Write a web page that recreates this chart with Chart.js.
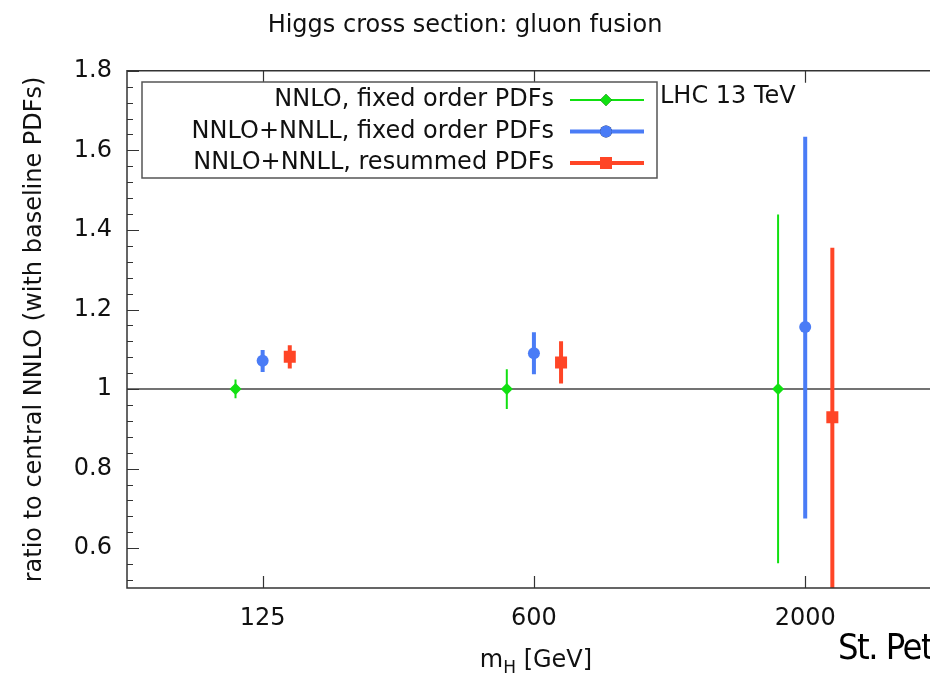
<!DOCTYPE html>
<html>
<head>
<meta charset="utf-8">
<script src="https://cdn.jsdelivr.net/npm/chart.js@4.4.0/dist/chart.umd.min.js"></script>
<style>
  html, body { margin: 0; padding: 0; background: #fff; overflow: hidden; width: 930px; height: 674px; }
  #chart { position: absolute; left: 0; top: 0; }
  #credit { position: absolute; left: 838px; top: 629px; font-family: "DejaVu Sans Condensed", "DejaVu Sans"; font-size: 36px; line-height: 1; color: #000; white-space: nowrap; letter-spacing: -1.5px; }
</style>
</head>
<body>
<canvas id="chart" width="930" height="674"></canvas>
<div id="credit">St. Petersburg</div>
<script>
// Higgs mass points (categories on x)
const masses = ['125', '600', '2000'];

// NNLO, fixed order PDFs
const nnloFixed = [1.0, 1.0, 1.0];
const nnloFixedLo = [0.977, 0.95, 0.562];
const nnloFixedHi = [1.024, 1.05, 1.439];

// NNLO+NNLL, fixed order PDFs
const resFixed = [1.071, 1.09, 1.156];
const resFixedLo = [1.043, 1.037, 0.675];
const resFixedHi = [1.098, 1.143, 1.634];

// NNLO+NNLL, resummed PDFs
const resRes = [1.081, 1.067, 0.929];
const resResLo = [1.052, 1.014, 0.45];
const resResHi = [1.11, 1.12, 1.355];

const yTicks = [0.6, 0.8, 1, 1.2, 1.4, 1.6, 1.8];

const FONT = '"DejaVu Sans", sans-serif';
const GREEN = '#11e011';
const BLUE = '#4a7cf6';
const RED = '#ff4526';
const SHIFT = 0.1; // horizontal spread of the three series around each mass

const pts = (vals, off) => vals.map((v, i) => ({ x: i + 1 + off, y: v }));

// error bars, frame, ticks, reference line, legend
const decorations = {
  id: 'decorations',
  beforeDatasetsDraw(c) {
    const { ctx, chartArea: a, scales: { y } } = c;
    ctx.save();
    // line at ratio = 1
    ctx.strokeStyle = '#444';
    ctx.lineWidth = 1.5;
    ctx.beginPath();
    ctx.moveTo(a.left, y.getPixelForValue(1));
    ctx.lineTo(a.right, y.getPixelForValue(1));
    ctx.stroke();

    // error bars
    ctx.beginPath();
    ctx.rect(a.left, a.top, a.right - a.left, a.bottom - a.top);
    ctx.clip();
    c.data.datasets.forEach((ds, i) => {
      const meta = c.getDatasetMeta(i);
      ctx.strokeStyle = ds.borderColor;
      ctx.lineWidth = ds.barWidth;
      meta.data.forEach((el, j) => {
        ctx.beginPath();
        ctx.moveTo(el.x, y.getPixelForValue(ds.errLo[j]));
        ctx.lineTo(el.x, y.getPixelForValue(ds.errHi[j]));
        ctx.stroke();
      });
    });
    ctx.restore();
  },
  afterDraw(c) {
    const { ctx, chartArea: a, scales: { x, y } } = c;
    ctx.save();
    // frame (right side is cut off in the original)
    ctx.strokeStyle = '#333';
    ctx.lineWidth = 1.5;
    ctx.beginPath();
    ctx.moveTo(a.right + 2, a.top);
    ctx.lineTo(a.left, a.top);
    ctx.lineTo(a.left, a.bottom);
    ctx.lineTo(a.right + 2, a.bottom);
    ctx.stroke();

    // y ticks, major + minor, pointing inward
    ctx.lineWidth = 1.2;
    ctx.beginPath();
    for (let k = 0; k <= 32; k++) {
      const v = 0.52 + k * 0.04;
      if (v > 1.8001) break;
      const py = Math.round(y.getPixelForValue(v)) + 0.5;
      const major = Math.abs((v * 5) - Math.round(v * 5)) < 1e-6;
      const len = major ? 12 : 6;
      ctx.moveTo(a.left, py); ctx.lineTo(a.left + len, py);
    }
    // x ticks, bottom and top
    masses.forEach((m, i) => {
      const px = Math.round(x.getPixelForValue(i + 1)) + 0.5;
      ctx.moveTo(px, a.bottom); ctx.lineTo(px, a.bottom - 12);
      ctx.moveTo(px, a.top); ctx.lineTo(px, a.top + 12);
    });
    ctx.stroke();

    // x axis title with subscript
    ctx.fillStyle = '#111';
    ctx.textBaseline = 'alphabetic';
    ctx.textAlign = 'left';
    const parts = [['m', 24, 0], ['H', 17, 6], [' [GeV]', 24, 0]];
    let total = 0;
    parts.forEach(p => { ctx.font = p[1] + 'px ' + FONT; total += ctx.measureText(p[0]).width; });
    let tx = 536 - total / 2;
    parts.forEach(p => {
      ctx.font = p[1] + 'px ' + FONT;
      ctx.fillText(p[0], tx, 667 + p[2]);
      tx += ctx.measureText(p[0]).width;
    });

    // legend box
    const lx0 = 142, lx1 = 657, ly0 = 82, ly1 = 178;
    ctx.fillStyle = '#fff';
    ctx.fillRect(lx0, ly0, lx1 - lx0, ly1 - ly0);
    ctx.strokeStyle = '#555';
    ctx.lineWidth = 1.5;
    ctx.strokeRect(lx0, ly0, lx1 - lx0, ly1 - ly0);
    ctx.font = '24px ' + FONT;
    ctx.textAlign = 'right';
    ctx.textBaseline = 'middle';
    c.data.datasets.forEach((ds, i) => {
      const ry = 100 + i * 31.5;
      ctx.fillStyle = '#111';
      ctx.fillText(ds.label, 554, ry);
      ctx.strokeStyle = ds.borderColor;
      ctx.lineWidth = ds.barWidth;
      ctx.beginPath();
      ctx.moveTo(570, ry); ctx.lineTo(644, ry);
      ctx.stroke();
      Chart.helpers.drawPoint(ctx, {
        pointStyle: ds.pointStyle, radius: ds.pointRadius, borderWidth: 0, rotation: 0,
      }, 606, ry);
      ctx.fillStyle = ds.backgroundColor;
      ctx.fill();
    });
    ctx.textAlign = 'left';
    ctx.fillStyle = '#111';
    ctx.fillText('LHC 13 TeV', 660, 97);
    ctx.restore();
  },
};

new Chart(document.getElementById('chart'), {
  type: 'scatter',
  data: {
    datasets: [
      {
        label: 'NNLO, fixed order PDFs',
        data: pts(nnloFixed, -SHIFT),
        errLo: nnloFixedLo, errHi: nnloFixedHi,
        borderColor: GREEN, backgroundColor: GREEN,
        pointStyle: 'rectRot', pointRadius: 6, borderWidth: 0, barWidth: 2,
      },
      {
        label: 'NNLO+NNLL, fixed order PDFs',
        data: pts(resFixed, 0),
        errLo: resFixedLo, errHi: resFixedHi,
        borderColor: BLUE, backgroundColor: BLUE,
        pointStyle: 'circle', pointRadius: 6, borderWidth: 0, barWidth: 4,
      },
      {
        label: 'NNLO+NNLL, resummed PDFs',
        data: pts(resRes, SHIFT),
        errLo: resResLo, errHi: resResHi,
        borderColor: RED, backgroundColor: RED,
        pointStyle: 'rect', pointRadius: 8.5, borderWidth: 0, barWidth: 4,
      },
    ],
  },
  options: {
    responsive: false,
    animation: false,
    layout: { padding: 0, autoPadding: false },
    scales: {
      x: {
        type: 'linear',
        min: 0.5,
        max: 3.46,
        grid: { display: false, drawTicks: false },
        border: { display: false },
        afterBuildTicks: (s) => { s.ticks = masses.map((m, i) => ({ value: i + 1 })); },
        afterFit: (s) => { s.height = 86; s.paddingRight = 0; s.paddingLeft = 0; },
        ticks: {
          padding: 16,
          color: '#111',
          font: { family: FONT, size: 24 },
          callback: (v) => masses[Math.round(v) - 1],
        },
      },
      y: {
        min: 0.5,
        max: 1.8,
        grid: { display: false, drawTicks: false },
        border: { display: false },
        afterBuildTicks: (s) => { s.ticks = yTicks.map(v => ({ value: v })); },
        afterFit: (s) => { s.width = 127; },
        ticks: {
          padding: 15,
          color: '#111',
          font: { family: FONT, size: 24 },
          callback: (v) => String(+v.toFixed(1)),
        },
        title: {
          display: true,
          text: 'ratio to central NNLO (with baseline PDFs)',
          color: '#111',
          font: { family: FONT, size: 24 },
          padding: { top: 20, bottom: 0 },
        },
      },
    },
    plugins: {
      legend: { display: false },
      tooltip: { enabled: false },
      title: {
        display: true,
        text: 'Higgs cross section: gluon fusion',
        color: '#111',
        font: { family: FONT, size: 24, weight: 'normal' },
        padding: { top: 11, bottom: 31 },
      },
    },
  },
  plugins: [decorations],
});
</script>
</body>
</html>
